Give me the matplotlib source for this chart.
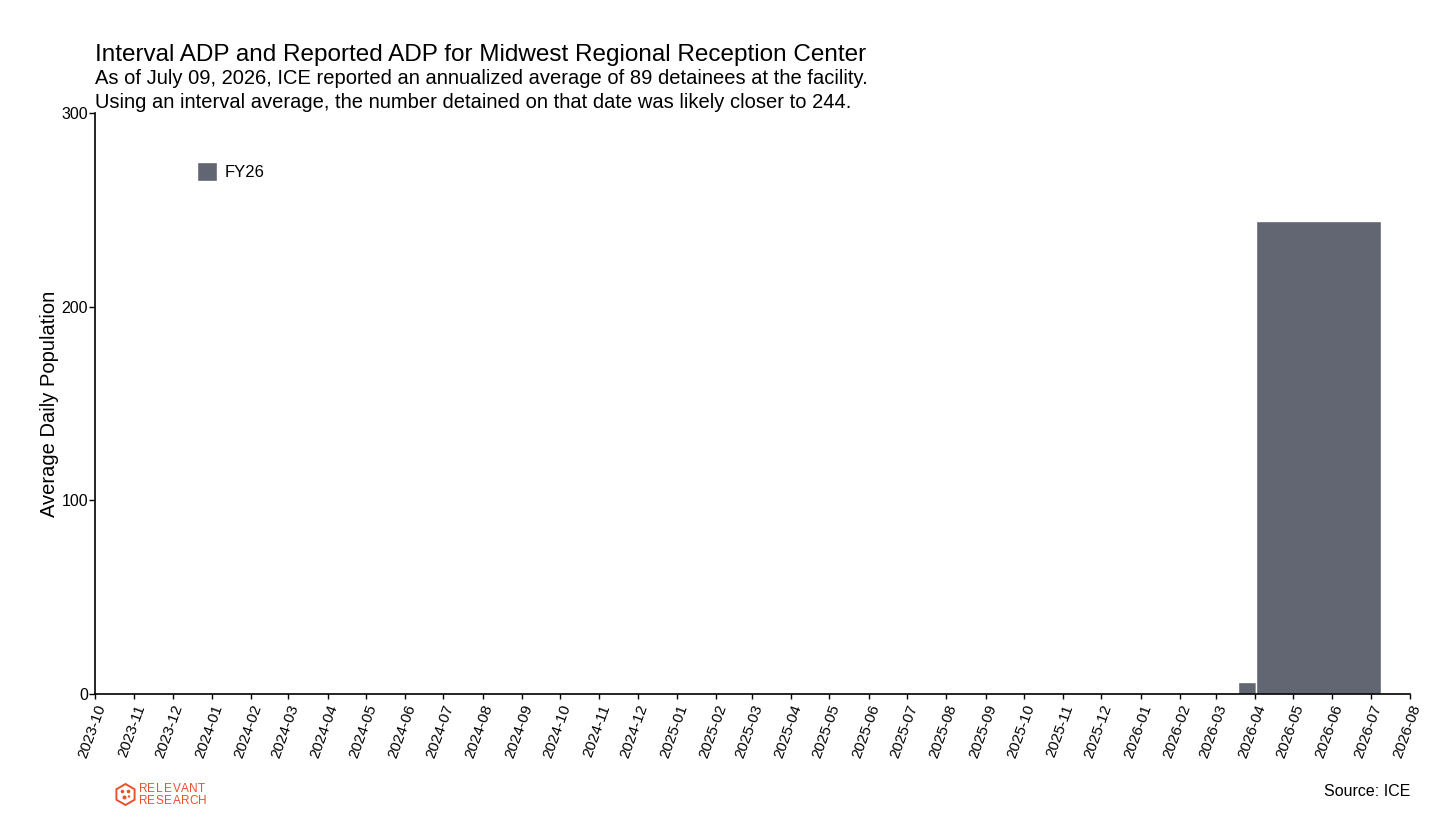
import matplotlib
matplotlib.use("Agg")
import matplotlib.pyplot as plt
import matplotlib.dates as mdates
from matplotlib.patches import RegularPolygon, Circle
import pandas as pd
import numpy as np

plt.rcParams['font.family'] = ['Liberation Sans', 'DejaVu Sans']

# ---- data ----
interval_start = ['2026-03-19', '2026-04-02']
interval_end = ['2026-04-02', '2026-07-09']
interval_adp = [6, 244]
series_label = 'FY26'
bar_color = '#626672'
x_min, x_max = '2023-10-01', '2026-08-01'
y_ticks = [0, 100, 200, 300]

title = 'Interval ADP and Reported ADP for Midwest Regional Reception Center'
subtitle_1 = 'As of July 09, 2026, ICE reported an annualized average of 89 detainees at the facility.'
subtitle_2 = 'Using an interval average, the number detained on that date was likely closer to 244.'

W, H = 1456, 819
fig = plt.figure(figsize=(W/100, H/100), dpi=100)
ax = fig.add_axes([95/W, 1-694/H, (1410-95)/W, (694-113)/H])

starts = pd.to_datetime(interval_start)
ends = pd.to_datetime(interval_end)
s_num = mdates.date2num(starts)
e_num = mdates.date2num(ends)
ax.bar(s_num, interval_adp, width=e_num - s_num, align='edge', color=bar_color,
       edgecolor='white', linewidth=1.0, label=series_label)

ax.set_xlim(mdates.date2num(pd.Timestamp(x_min)), mdates.date2num(pd.Timestamp(x_max)))
ax.set_ylim(0, 300)
ax.set_yticks(y_ticks)
ax.xaxis.set_major_locator(mdates.MonthLocator())
ax.xaxis.set_major_formatter(mdates.DateFormatter('%Y-%m'))
ax.tick_params(axis='y', labelsize=11.5, length=4, width=1, color='black', pad=1)
ax.tick_params(axis='x', labelsize=11, length=3.5, width=1, color='black', pad=3)
for lab in ax.get_xticklabels():
    lab.set_rotation(70)
    lab.set_ha('right')
    lab.set_va('top')
    lab.set_rotation_mode('anchor')

for s in ['top', 'right']:
    ax.spines[s].set_visible(False)
for s in ['left', 'bottom']:
    ax.spines[s].set_linewidth(1.2)

ax.set_ylabel('Average Daily Population', fontsize=14.5)
ax.yaxis.set_label_coords((59-95)/(1410-95), 0.5)

leg = ax.legend(loc='upper left', bbox_to_anchor=(0.066, 0.942), frameon=False, fontsize=12,
                handlelength=1.2, handleheight=1.4, handletextpad=0.5)

fig.text(95/W, 1-55/H, title, fontsize=17.5, ha='left', va='center')
fig.text(95/W, 1-79/H, subtitle_1, fontsize=14.5, ha='left', va='center')
fig.text(95/W, 1-103/H, subtitle_2, fontsize=14.5, ha='left', va='center')

fig.text(1410/W, 1-791/H, 'Source: ICE', fontsize=11.5, ha='right', va='center')

# logo
logo_color = '#E8502E'
cx, cy = 125.5/100, (H-794.5)/100
hexp = RegularPolygon((cx, cy), numVertices=6, radius=0.105, orientation=0,
                      transform=fig.dpi_scale_trans, facecolor='none',
                      edgecolor=logo_color, linewidth=1.4)
fig.patches.append(hexp)
for dx, dy, r in [(-0.03, 0.03, 0.018), (0.03, 0.03, 0.018), (-0.01, -0.03, 0.02), (0.035, -0.02, 0.012)]:
    fig.patches.append(Circle((cx + dx, cy + dy), r, transform=fig.dpi_scale_trans,
                              facecolor=logo_color, edgecolor='none'))
for i, ch in enumerate('RELEVANT'):
    fig.text((139 + i * 8.4)/W, 1-789/H, ch, color=logo_color, fontsize=8.5, ha='left', va='center')
for i, ch in enumerate('RESEARCH'):
    fig.text((139 + i * 8.4)/W, 1-801/H, ch, color=logo_color, fontsize=8.5, ha='left', va='center')

fig.savefig('out.png', dpi=100)
